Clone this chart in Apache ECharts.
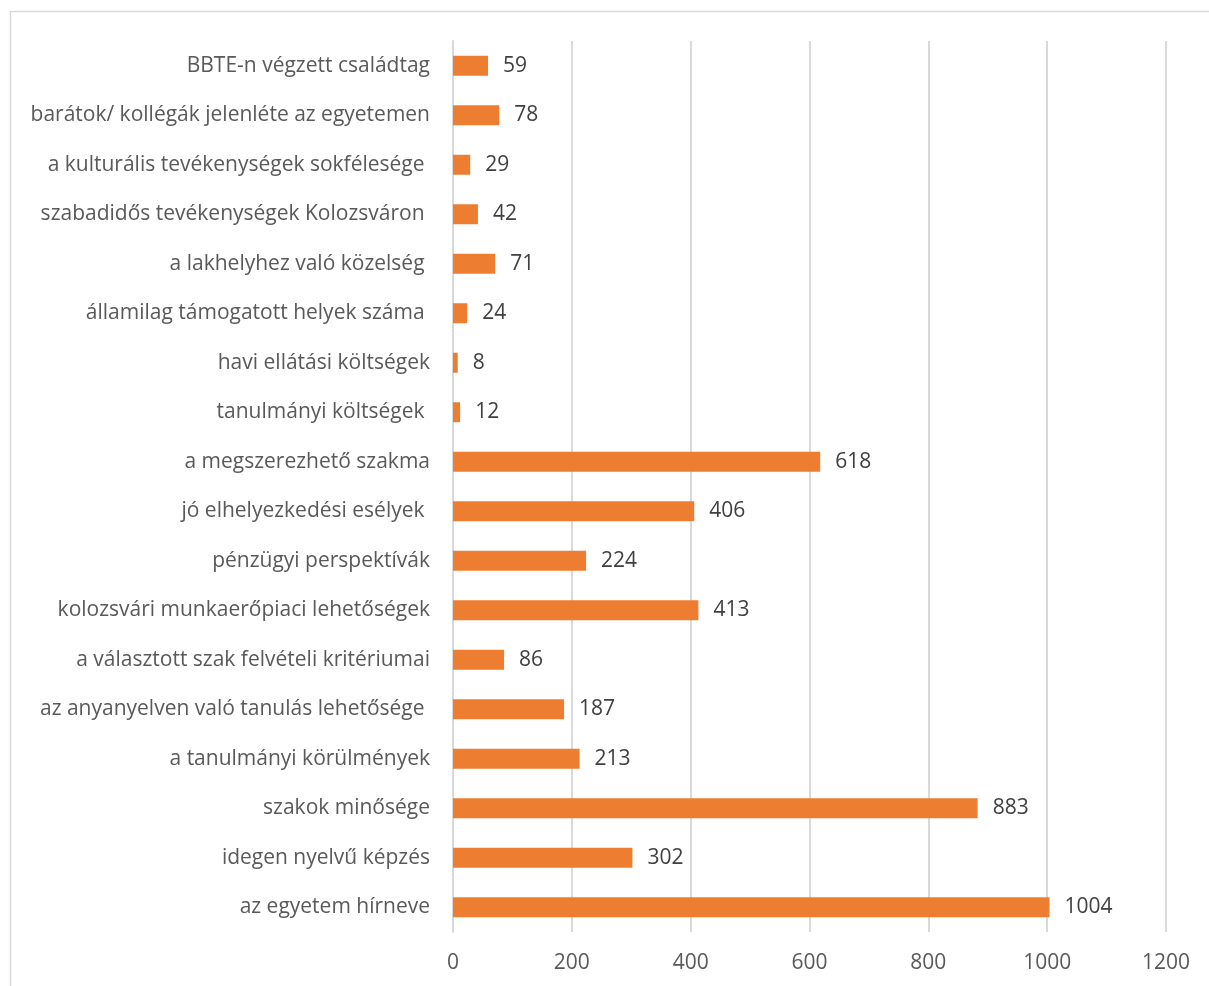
<!DOCTYPE html>
<html><head><meta charset="utf-8">
<script src="https://cdn.jsdelivr.net/npm/echarts@6/dist/echarts.min.js"></script>
<style>html,body{margin:0;padding:0;background:#fff;}#c{width:1209px;height:986px;}</style>
</head><body><div id="c"></div>
<script>
const categories = [
  "az egyetem hírneve",
  "idegen nyelvű képzés",
  "szakok minősége",
  "a tanulmányi körülmények",
  "az anyanyelven való tanulás lehetősége ",
  "a választott szak felvételi kritériumai",
  "kolozsvári munkaerőpiaci lehetőségek",
  "pénzügyi perspektívák",
  "jó elhelyezkedési esélyek ",
  "a megszerezhető szakma",
  "tanulmányi költségek ",
  "havi ellátási költségek",
  "államilag támogatott helyek száma ",
  "a lakhelyhez való közelség ",
  "szabadidős tevékenységek Kolozsváron ",
  "a kulturális tevékenységek sokfélesége ",
  "barátok/ kollégák jelenléte az egyetemen",
  "BBTE-n végzett családtag"
];
const values = [1004, 302, 883, 213, 187, 86, 413, 224, 406, 618, 12, 8, 24, 71, 42, 29, 78, 59];
const xTicks = [0, 200, 400, 600, 800, 1000, 1200];

const FONT = '"Open Sans", Lato, sans-serif';
const chart = echarts.init(document.getElementById('c'), null, {renderer: 'canvas'});
chart.setOption({
  animation: false,
  backgroundColor: '#fff',
  graphic: [{
    type: 'rect', silent: true, z: 0,
    shape: {x: 10.5, y: 11.5, width: 1400, height: 1200},
    style: {fill: 'none', stroke: '#d9d9d9', lineWidth: 1.5}
  }],
  grid: {left: 453, right: 43, top: 41, bottom: 54, containLabel: false},
  xAxis: {
    type: 'value', min: xTicks[0], max: xTicks[xTicks.length - 1], interval: 200,
    axisLine: {show: false}, axisTick: {show: false},
    splitLine: {show: true, lineStyle: {color: '#d9d9d9', width: 2}},
    axisLabel: {color: '#595959', fontSize: 21, fontFamily: FONT, margin: 21,
      formatter: v => String(v)}
  },
  yAxis: {
    type: 'category', data: categories,
    axisLine: {show: true, lineStyle: {color: '#d9d9d9', width: 2}},
    axisTick: {show: false},
    axisLabel: {color: '#595959', fontSize: 21, fontFamily: FONT, margin: 23}
  },
  series: [{
    type: 'bar', data: values, barWidth: 20,
    itemStyle: {color: '#ED7D31'},
    label: {show: true, position: 'right', distance: 15, color: '#404040', fontSize: 21, fontFamily: FONT}
  }]
});
</script></body></html>
